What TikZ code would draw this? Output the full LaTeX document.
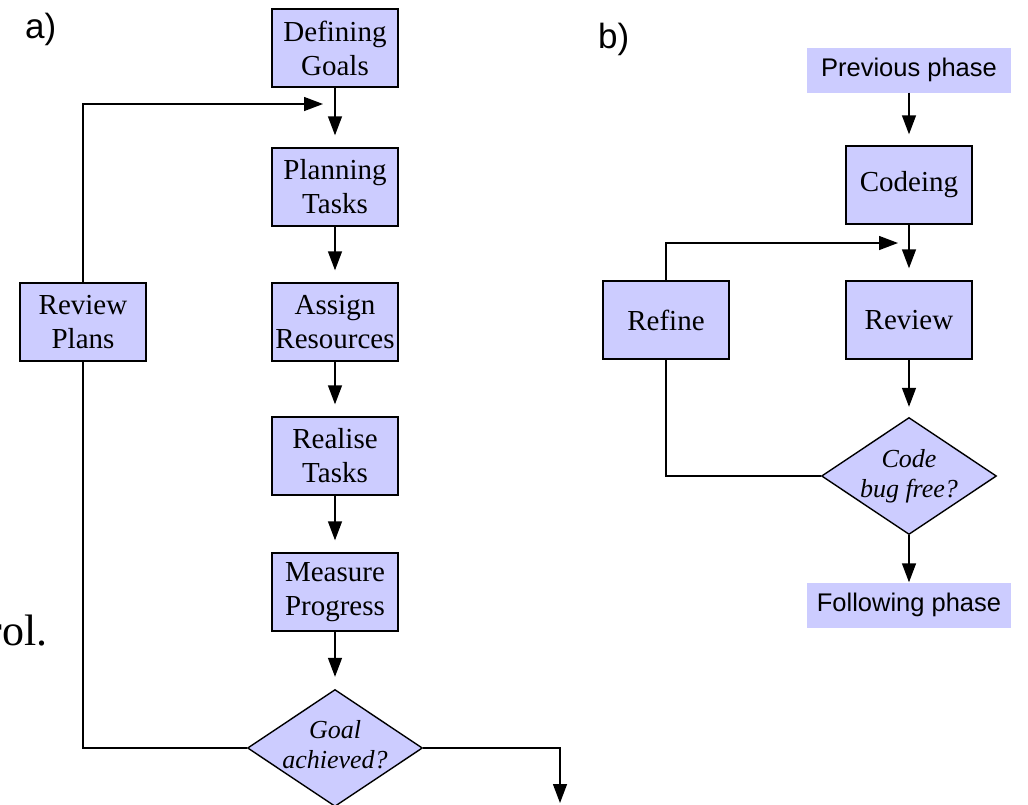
\documentclass[tikz,border=0pt]{standalone}
\usepackage{fontspec}
\setmainfont{Liberation Serif}
\newfontfamily\arialfont{Liberation Sans}
\usetikzlibrary{shapes.geometric,arrows.meta}
\definecolor{boxfill}{RGB}{204,204,255}
\begin{document}
\begin{tikzpicture}[x=1pt,y=-1pt,
  stepbox/.style={draw=black, fill=boxfill, line width=1.4pt, minimum width=126pt,
    minimum height=78pt, inner sep=0pt, align=center, font=\fontsize{29}{34}\selectfont},
  phase/.style={fill=boxfill, minimum width=204pt, minimum height=45pt, inner sep=0pt,
    font=\arialfont\fontsize{25.5}{30}\selectfont},
  decision/.style={diamond, draw=black, fill=boxfill, line width=1.4pt,
    minimum width=175pt, minimum height=117pt, inner sep=0pt},
  dectext/.style={align=center, font=\itshape\fontsize{26}{30}\selectfont, inner sep=0pt},
  flow/.style={line width=1.4pt, -{Triangle[length=19pt,width=14pt]}},
  link/.style={line width=1.4pt},
  tag/.style={font=\arialfont\fontsize{35}{40}\selectfont, inner sep=0pt}
]
\useasboundingbox (0,0) rectangle (1028,804);

% ---------- a) planning cycle ----------
\node[tag, anchor=base west] (la) at (25,38) {a)};
\node[font=\fontsize{44}{50}\selectfont, anchor=base east, inner sep=0pt] (cut) at (48,645) {rol.};

\node[stepbox] (dg) at (335,48)  {Defining\\Goals};
\node[stepbox] (pt) at (335,187) {Planning\\Tasks};
\node[stepbox] (ar) at (335,322) {Assign\\Resources};
\node[stepbox] (rt) at (335,456) {Realise\\Tasks};
\node[stepbox] (mp) at (335,592) {Measure\\Progress};
\node[decision] (ga) at (335,748) {};
\node[dectext] (gat) at (335,745) {Goal\\achieved?};
\node[stepbox] (rp) at (83,322) {Review\\Plans};

\draw[flow, shorten >=12pt] (dg) -- (pt);
\draw[flow, shorten >=12pt] (pt) -- (ar);
\draw[flow, shorten >=12pt] (ar) -- (rt);
\draw[flow, shorten >=12pt] (rt) -- (mp);
\draw[flow, shorten >=12pt] (mp) -- (ga);

\coordinate (j1) at (335,104);
\draw[flow, shorten >=12pt] (rp.north) |- (j1);
\draw[link] (ga.west) -| (rp.south);
\coordinate (done) at (560,803);
\draw[flow] (ga.east) -| (done);

% ---------- b) coding cycle ----------
\node[tag, anchor=base west] (lb) at (598,48) {b)};

\node[phase] (pp) at (909,70) {Previous phase};
\node[stepbox] (cd) at (909,185) {Codeing};
\node[stepbox] (rv) at (909,320) {Review};
\node[stepbox] (rf) at (666,320) {Refine};
\node[decision] (cb) at (909,476) {};
\node[dectext] (cbt) at (909,476) {Code\\bug free?};
\node[phase] (fp) at (909,605) {Following phase};

\draw[flow, shorten >=11pt] (pp) -- (cd);
\draw[flow, shorten >=12pt] (cd) -- (rv);
\draw[flow, shorten >=10pt] (rv) -- (cb);
\draw[flow] (cb) -- (fp);

\coordinate (j2) at (909,243);
\draw[flow, shorten >=11pt] (rf.north) |- (j2);
\draw[link] (cb.west) -| (rf.south);
\end{tikzpicture}
\end{document}
